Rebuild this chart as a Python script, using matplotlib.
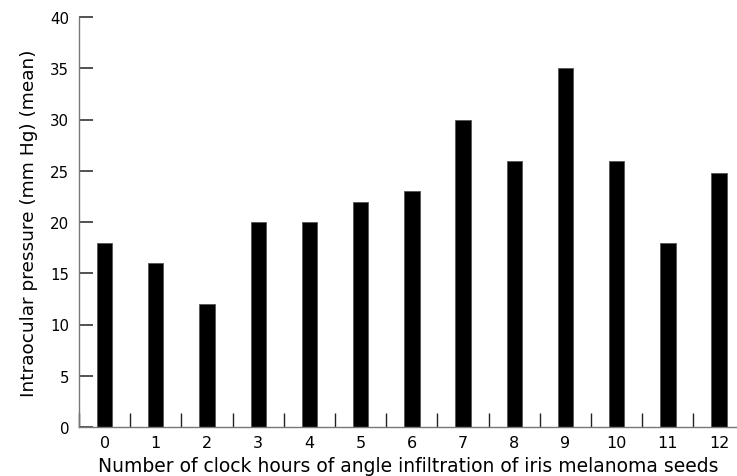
import numpy as np
import matplotlib
matplotlib.use("Agg")
import matplotlib.pyplot as plt

# clock hours of angle infiltration and mean IOP (mm Hg)
hours = np.arange(13)
pressure = [18, 16, 12, 20, 20, 22, 23, 30, 26, 35, 26, 18, 24.8]
tick_labels = [str(h) for h in hours]

plt.rcParams['font.family'] = ['DejaVu Sans']

fig = plt.figure(figsize=(7.37, 4.77), dpi=100)
ax = fig.add_axes([79 / 737, 49 / 477, 1 - 79 / 737, (428 - 18) / 477])

ax.bar(hours, pressure, width=0.3, color='black', edgecolor='#555555', linewidth=0.6)

ax.set_xlim(-0.5, 12.35)
ax.set_ylim(0, 40)
ax.set_yticks(np.arange(0, 41, 5))
ax.set_xticks(hours)
ax.set_xticklabels(tick_labels)
ax.set_xticks(np.append(-0.5, hours[:-1] + 0.5), minor=True)

ax.tick_params(axis='x', which='major', length=0, labelsize=11.5, pad=6)
ax.tick_params(axis='x', which='minor', direction='in', length=10, width=1.0, color='#222222')
ax.tick_params(axis='y', direction='in', length=10, width=1.2, color='#333333', labelsize=10.8, pad=7)

for side in ['top', 'right']:
    ax.spines[side].set_visible(False)
for side in ['left', 'bottom']:
    ax.spines[side].set_color('#777777')
    ax.spines[side].set_linewidth(1.0)

ax.set_xlabel('Number of clock hours of angle infiltration of iris melanoma seeds', fontsize=13.5, labelpad=4)
ax.set_ylabel('Intraocular pressure (mm Hg) (mean)', fontsize=13.3, labelpad=9)

fig.savefig('out.png', dpi=100)
